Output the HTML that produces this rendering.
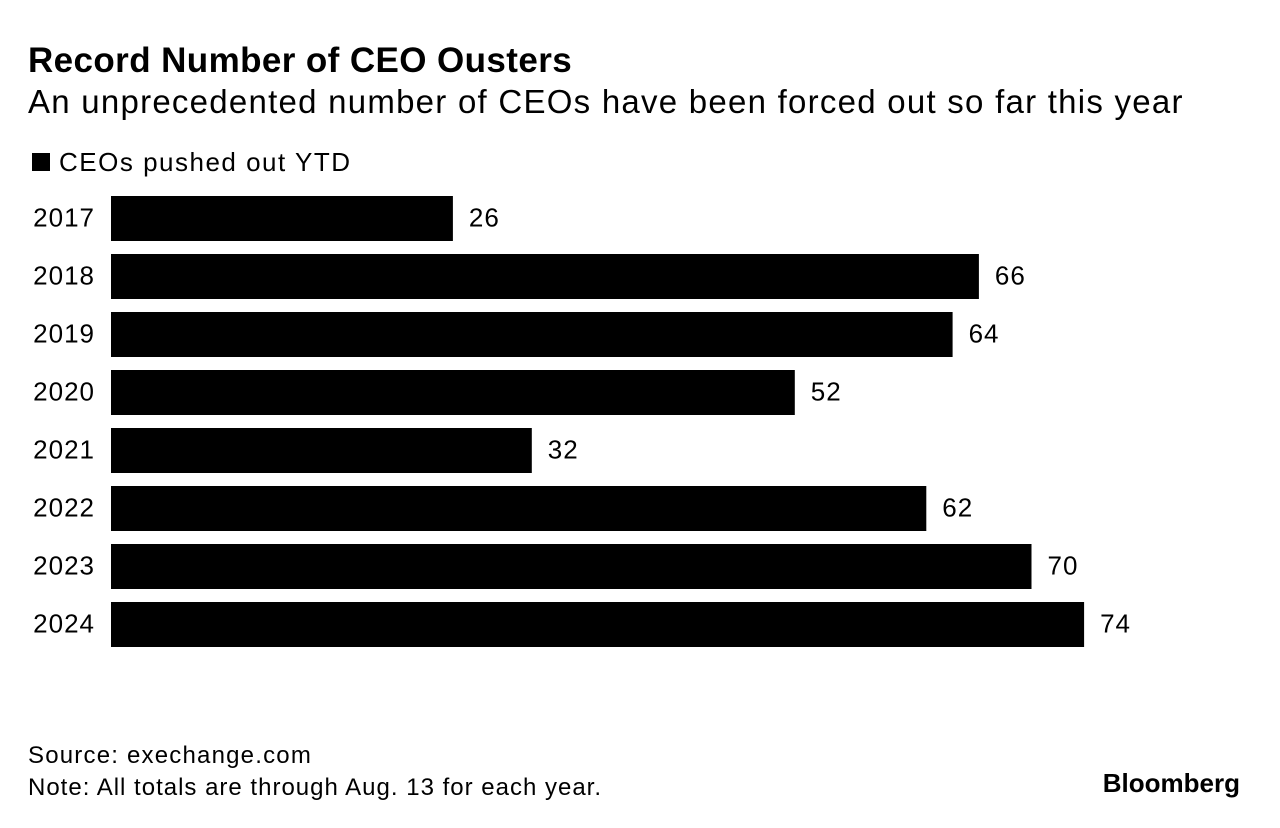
<!DOCTYPE html>
<html><head><meta charset="utf-8"><style>
body{margin:0;width:1280px;height:828px;background:#fff;font-family:"Liberation Sans",sans-serif;color:#000;position:relative;overflow:hidden}
.t{position:absolute;white-space:nowrap}
</style></head><body>
<div class="t" style="left:28px;top:41px;font-size:35px;font-weight:bold;letter-spacing:0.4px">Record Number of CEO Ousters</div>
<div class="t" style="left:28px;top:83px;font-size:33px;letter-spacing:1.25px">An unprecedented number of CEOs have been forced out so far this year</div>
<div class="t" style="left:32px;top:147px;font-size:26px;letter-spacing:1.5px"><span style="display:inline-block;width:18px;height:18px;background:#000;margin-right:9px;vertical-align:0px"></span>CEOs pushed out YTD</div>
<svg id="chart" width="1280" height="700" style="position:absolute;left:0;top:0"></svg>
<div class="t" style="left:28px;top:742px;font-size:24px;letter-spacing:1.2px">Source: exechange.com</div>
<div class="t" style="left:28px;top:774px;font-size:24px;letter-spacing:1px">Note: All totals are through Aug. 13 for each year.</div>
<div class="t" style="right:40px;top:768px;font-size:26px;font-weight:bold">Bloomberg</div>
<script>
const years=["2017","2018","2019","2020","2021","2022","2023","2024"];
const values=[26,66,64,52,32,62,70,74];
const svg=document.getElementById('chart');
const NS='http://www.w3.org/2000/svg';
const x0=111, scale=13.15, top0=196, step=58, bh=45;
const xs=v=>x0+v*scale;
years.forEach((y,i)=>{
  const yy=top0+i*step;
  const r=document.createElementNS(NS,'rect');
  r.setAttribute('x',x0);r.setAttribute('y',yy);
  r.setAttribute('width',xs(values[i])-x0);r.setAttribute('height',bh);
  r.setAttribute('fill','#000');
  
  
  svg.appendChild(r);
  const l=document.createElementNS(NS,'text');
  l.setAttribute('x',95);l.setAttribute('y',yy+bh/2+8);
  l.setAttribute('text-anchor','end');l.setAttribute('font-size','26');
  l.setAttribute('letter-spacing','1');
  l.textContent=y;
  
  
  svg.appendChild(l);
  const v=document.createElementNS(NS,'text');
  v.setAttribute('x',xs(values[i])+16);v.setAttribute('y',yy+bh/2+8);
  v.setAttribute('font-size','26');
  v.setAttribute('letter-spacing','1');
  v.textContent=values[i];
  
  
  svg.appendChild(v);
});
</script>
</body></html>
